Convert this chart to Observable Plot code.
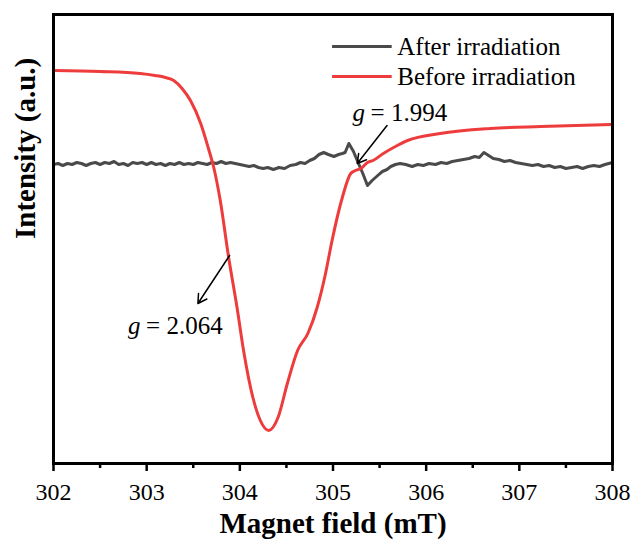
<!DOCTYPE html>
<html><head><meta charset="utf-8">
<script src="https://cdn.jsdelivr.net/npm/d3@7"></script>
<script src="https://cdn.jsdelivr.net/npm/@observablehq/plot@0.6"></script>
<style>body{margin:0;background:#fff} svg, svg text{font-family:"Times New Roman","Liberation Serif",serif !important; font-variant-numeric: normal !important}</style>
</head><body><div id="chart"></div>
<script>
const beforeField = [302.00,302.50,302.93,303.09,303.20,303.29,303.38,303.47,303.58,303.66,303.72,303.79,303.88,303.97,304.04,304.14,304.22,304.31,304.41,304.51,304.62,304.73,304.83,304.92,304.99,305.10,305.19,305.24,305.30,305.37,305.43,305.54,305.69,305.80,306.15,306.69,307.23,308.00];
const beforeIntensity = [0.93,0.92,0.90,0.88,0.86,0.83,0.75,0.63,0.40,0.16,-0.04,-0.37,-0.94,-1.44,-1.87,-2.34,-2.57,-2.67,-2.54,-2.20,-1.87,-1.70,-1.44,-1.10,-0.77,-0.34,-0.10,-0.07,-0.05,0.01,0.03,0.10,0.18,0.23,0.30,0.35,0.37,0.39];

const afterField = [302.00,302.05,302.10,302.15,302.20,302.25,302.30,302.35,302.40,302.45,302.50,302.55,302.60,302.65,302.70,302.75,302.80,302.85,302.90,302.95,303.00,303.05,303.10,303.15,303.20,303.25,303.30,303.35,303.40,303.45,303.50,303.55,303.60,303.65,303.70,303.75,303.80,303.85,303.90,303.95,304.00,304.05,304.10,304.15,304.20,304.25,304.30,304.36,304.42,304.48,304.54,304.60,304.65,304.70,304.75,304.80,304.85,304.90,304.95,305.01,305.06,305.10,305.13,305.17,305.22,305.26,305.32,305.37,305.42,305.48,305.53,305.58,305.62,305.67,305.72,305.78,305.85,305.91,305.97,306.03,306.10,306.16,306.22,306.28,306.34,306.40,306.46,306.52,306.57,306.62,306.67,306.72,306.78,306.84,306.90,306.96,307.02,307.08,307.14,307.20,307.26,307.32,307.38,307.44,307.50,307.56,307.62,307.68,307.74,307.80,307.86,307.92,308.00];
const afterIntensity = [-0.01,0.00,-0.02,0.00,-0.01,0.01,0.00,-0.02,0.00,0.01,-0.01,0.01,0.00,0.02,-0.01,0.00,-0.02,0.01,0.00,0.01,-0.01,0.01,-0.01,0.00,-0.02,0.00,-0.01,0.01,-0.01,0.00,-0.01,0.01,0.00,-0.01,0.01,0.00,0.02,0.00,0.01,0.00,-0.01,-0.02,-0.03,-0.02,-0.04,-0.05,-0.04,-0.06,-0.04,-0.05,-0.02,-0.01,0.01,0.00,0.03,0.05,0.09,0.11,0.09,0.07,0.09,0.10,0.11,0.20,0.12,0.03,-0.10,-0.22,-0.17,-0.12,-0.08,-0.06,-0.03,-0.01,0.00,-0.01,-0.03,-0.01,-0.02,0.00,-0.01,0.01,0.00,0.02,0.03,0.04,0.05,0.07,0.06,0.11,0.08,0.05,0.04,0.02,0.03,0.01,0.00,-0.01,-0.02,-0.01,-0.03,-0.02,-0.04,-0.03,-0.05,-0.04,-0.03,-0.05,-0.03,-0.02,-0.03,-0.01,0.01];

const majorTicks = [302,303,304,305,306,307,308];
const minorTicks = [302.5,303.5,304.5,305.5,306.5,307.5];

const seriesNames = ["After irradiation","Before irradiation"];
const seriesColors = ["#4a4a4a","#ee3b3b"];
const legendX1 = 304.99, legendX2 = 305.63, legendTextX = 305.69;
const legendY = [1.17, 0.87];

const annotText = ["= 2.064","= 1.994"];
const annotTextX = [302.80, 305.21];
const annotTextY = [-1.62, 0.51];
const arrowX1 = [303.89, 305.58], arrowY1 = [-0.92, 0.38];
const arrowX2 = [303.55, 305.26], arrowY2 = [-1.40, 0.00];

const before = beforeField.map((x,i)=>({x, y: beforeIntensity[i]}));
const after = afterField.map((x,i)=>({x, y: afterIntensity[i]}));
const legend = seriesNames.map((name,i)=>({name, color: seriesColors[i], y: legendY[i]}));
const annots = annotText.map((t,i)=>({t, x: annotTextX[i], y: annotTextY[i], x1: arrowX1[i], y1: arrowY1[i], x2: arrowX2[i], y2: arrowY2[i]}));

const chart = Plot.plot({
  width: 635, height: 553,
  marginTop: 14, marginBottom: 90, marginLeft: 53, marginRight: 23,
  x: {domain: [302, 308]},
  y: {domain: [-3.0, 1.49], axis: null},
  style: {fontFamily: "'Times New Roman', 'Liberation Serif', serif", fontSize: "24px", color: "black", background: "white"},
  marks: [
    Plot.line(after, {x: "x", y: "y", stroke: seriesColors[0], strokeWidth: 3, curve: "linear"}),
    Plot.line(before, {x: "x", y: "y", stroke: seriesColors[1], strokeWidth: 3, curve: "monotone-x"}),
    Plot.arrow(annots, {x1: "x1", y1: "y1", x2: "x2", y2: "y2", stroke: "black", strokeWidth: 1.5, headLength: 10}),
    Plot.text(annots, {x: "x", y: "y", text: () => "g", fontStyle: "italic", textAnchor: "start", fontSize: 25}),
    Plot.text(annots, {x: "x", y: "y", text: "t", dx: 18, textAnchor: "start", fontSize: 25}),
    Plot.link(legend, {x1: () => legendX1, x2: () => legendX2, y1: "y", y2: "y", stroke: "color", strokeWidth: 3}),
    Plot.text(legend, {x: () => legendTextX, y: "y", text: "name", textAnchor: "start", fontSize: 25}),
    Plot.frame({stroke: "black", strokeWidth: 3}),
    Plot.axisX({ticks: majorTicks, tickSize: 8, tickPadding: 11, tickFormat: d => String(d), fontSize: 24, strokeWidth: 2.5, label: null}),
    Plot.axisX({ticks: minorTicks, tickSize: 5, tickFormat: () => "", strokeWidth: 2.5, label: null}),
    Plot.text(["Magnet field (mT)"], {frameAnchor: "bottom", dy: 69, fontWeight: "bold", fontSize: 29}),
    Plot.text(["Intensity (a.u.)"], {frameAnchor: "left", dx: -28, rotate: -90, fontWeight: "bold", fontSize: 29})
  ]
});
document.getElementById("chart").appendChild(chart);
</script>
</body></html>
